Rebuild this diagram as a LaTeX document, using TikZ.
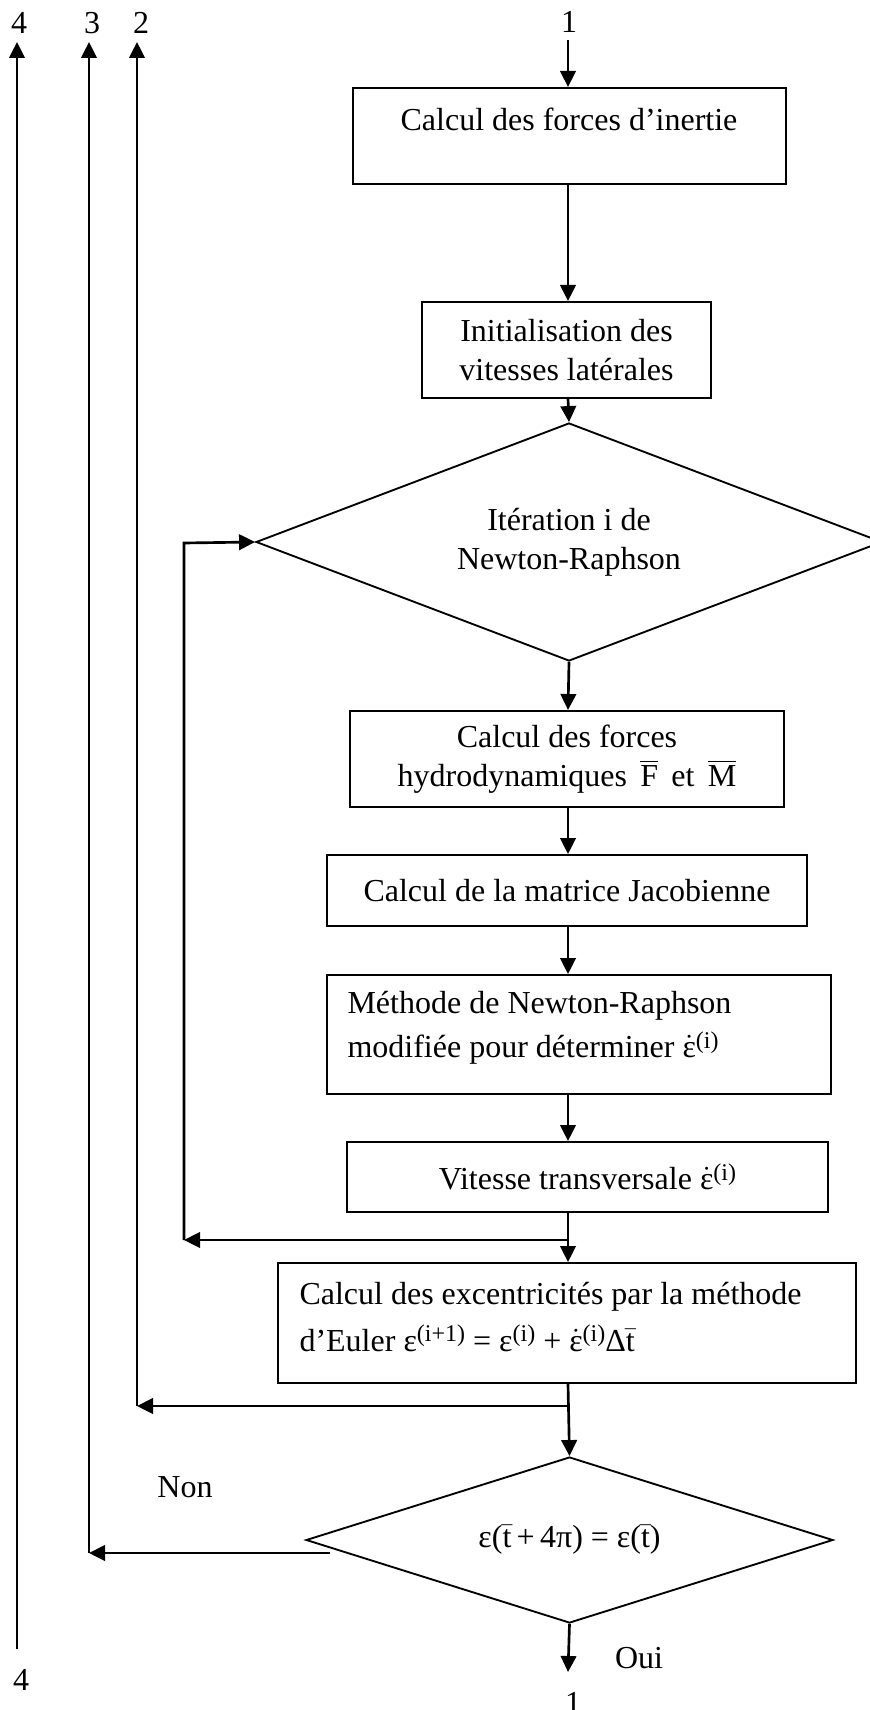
\documentclass[tikz,border=0pt]{standalone}
\usepackage{fontspec}
\setmainfont{Liberation Serif}
\usetikzlibrary{arrows.meta,shapes.geometric}
\newcommand\myedot{\ensuremath{\dot{\mbox{ε}}}}
\newcommand\mytbar{\ensuremath{\bar{\mbox{t}}}}
\newcommand\myobar[1]{\ensuremath{\overline{\mbox{#1}}}}
\newcommand\mysup[1]{\raisebox{3.6pt}{\fontsize{9pt}{9pt}\selectfont #1}}
\begin{document}
\begin{tikzpicture}[x=0.375pt,y=-0.375pt,
  every node/.append style={font=\fontsize{12pt}{14.5pt}\selectfont},
  box/.style={draw,line width=0.75pt,rectangle,inner sep=0pt,align=center},
  dia/.style={draw,line width=0.7pt,diamond,inner sep=0pt,align=center},
  arr/.style={line width=1pt,-{Triangle[length=6pt,width=5.8pt]}},
  lab/.style={inner sep=0pt}]
\useasboundingbox (0,0) rectangle (869,1710);
\coordinate (ax) at (568,0);
% boxes
\node[box,minimum width=162.4pt,minimum height=36pt] (b1) at (569.5,136) {};
\node[lab] (t1) at (569,119) {Calcul des forces d’inertie};
\node[box,minimum width=108.4pt,minimum height=36pt] (b2) at (566.5,350) {Initialisation des\\vitesses latérales};
\node[dia,minimum width=234.75pt,minimum height=89.25pt,shape aspect=2.63] (d1) at (569,542) {Itération i de\\Newton-Raphson};
\node[box,minimum width=162.75pt,minimum height=36pt] (b3) at (567,759) {Calcul des forces\\hydrodynamiques\, \myobar{F}\, et\, \myobar{M}};
\node[box,minimum width=180pt,minimum height=26.6pt] (b4) at (567,890.5) {Calcul de la matrice Jacobienne};
\node[box,minimum width=189pt,minimum height=44.6pt] (b5) at (579,1034.5) {};
\node[lab,anchor=west,align=left] (t5) at (347,1028) {Méthode de Newton-Raphson\\[2pt]modifiée pour déterminer \myedot\mysup{(i)}};
\node[box,minimum width=180.4pt,minimum height=26.25pt] (b6) at (587.5,1177) {Vitesse transversale \myedot\mysup{(i)}};
\node[box,minimum width=216.75pt,minimum height=45pt] (b7) at (567,1323) {};
\node[lab,anchor=west,align=left] (t7) at (299,1317) {Calcul des excentricités par la méthode\\[3pt]d’Euler ε\mysup{(i+1)} = ε\mysup{(i)} + \myedot\mysup{(i)}Δ\mytbar};
\node[dia,minimum width=197.6pt,minimum height=62.25pt,shape aspect=3.17] (d2) at (569.5,1540) {ε(\mytbar\,+\,4π) = ε(\mytbar)};
% labels
\node[lab] (l4top) at (19,23) {4};
\node[lab] (l3top) at (92,23) {3};
\node[lab] (l2top) at (141,23) {2};
\node[lab] (l1top) at (569,22) {1};
\node[lab] (l4bot) at (21,1680) {4};
\node[lab] (l1bot) at (573,1703) {1};
\node[lab] (non) at (185,1487) {Non};
\node[lab] (oui) at (639,1658) {Oui};
% main connectors
\coordinate (s1) at (568,40);
\draw[arr] (s1) -- (b1.north -| ax);
\draw[arr] (b1.south -| ax) -- (b2.north -| ax);
\draw[arr] (b2.south -| ax) -- (d1.north);
\draw[arr] (d1.south) -- (b3.north -| ax);
\draw[arr] (b3.south -| ax) -- (b4.north -| ax);
\draw[arr] (b4.south -| ax) -- (b5.north -| ax);
\draw[arr] (b5.south -| ax) -- (b6.north -| ax);
\draw[arr] (b6.south -| ax) -- (b7.north -| ax);
\draw[arr] (b7.south -| ax) -- (d2.north);
\coordinate (e1) at (568,1672);
\draw[arr] (d2.south) -- (e1);
% loop back to iteration
\coordinate (j1) at (568,1240);
\coordinate (c1b) at (184,1240);
\coordinate (c1t) at (184,543);
\draw[arr] (j1) -- (c1b);
\draw[arr] (c1b) -- (c1t) -- (d1.west);
% line 2
\coordinate (j2) at (568,1406);
\coordinate (c2b) at (137,1406);
\coordinate (c2t) at (137,42);
\draw[arr] (j2) -- (c2b);
\draw[arr] (c2b) -- (c2t);
% line 3
\coordinate (n3) at (330,1553);
\coordinate (c3b) at (89,1553);
\coordinate (c3t) at (89,42);
\draw[arr] (n3) -- (c3b);
\draw[arr] (c3b) -- (c3t);
% line 4
\coordinate (c4b) at (17,1649);
\coordinate (c4t) at (17,42);
\draw[arr] (c4b) -- (c4t);
\end{tikzpicture}
\end{document}
